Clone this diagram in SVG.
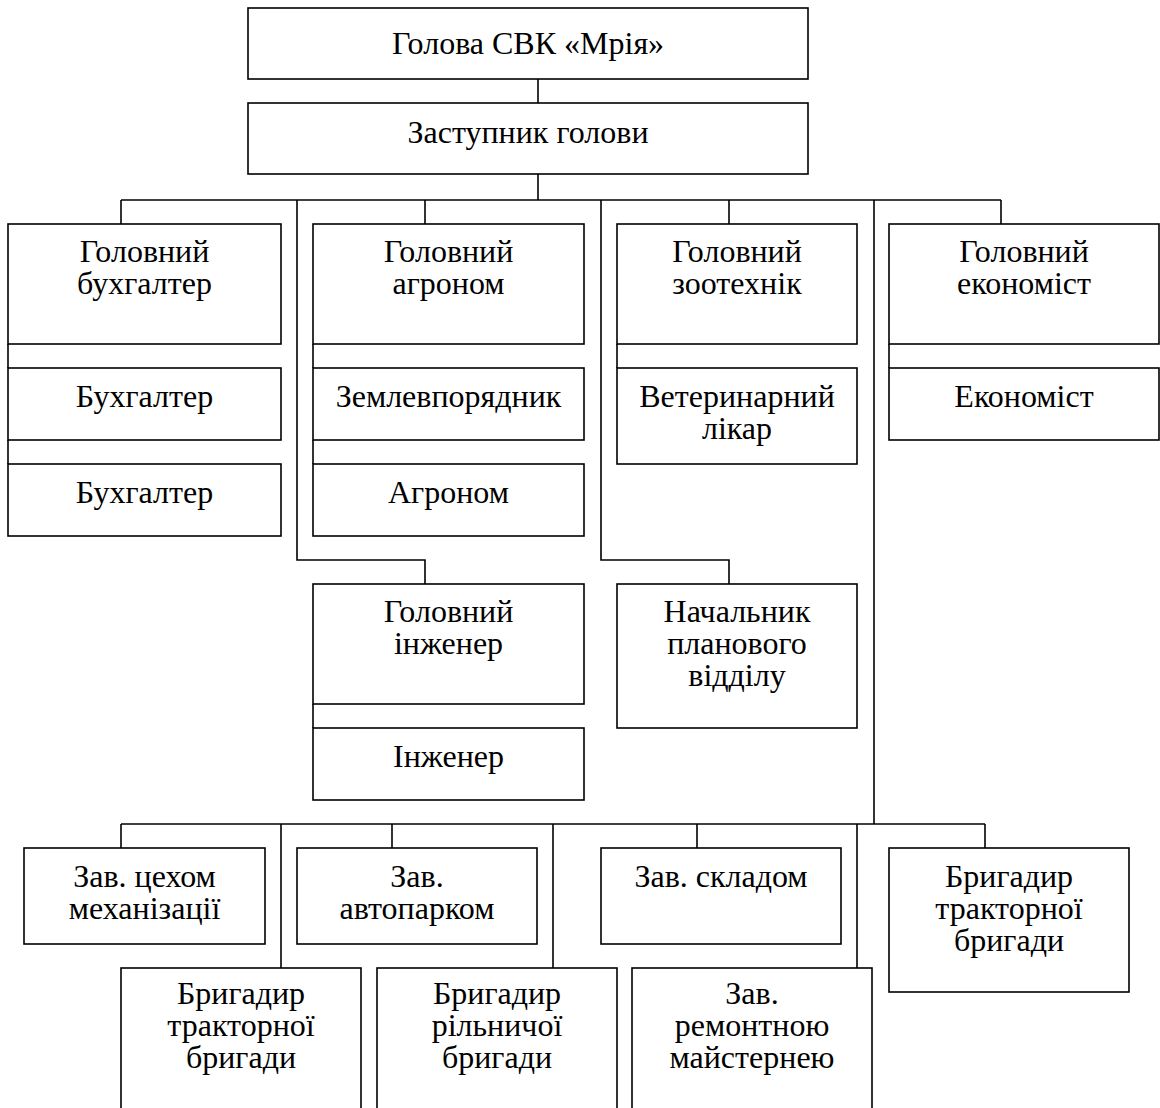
<svg xmlns="http://www.w3.org/2000/svg" width="1160" height="1108" viewBox="0 0 1160 1108">
<style>
rect{fill:#fff;stroke:#000;stroke-width:1.6}
.c line,.c polyline{fill:none;stroke:#000;stroke-width:1.6}
text{font-family:"Liberation Serif","Times New Roman",serif;font-size:32px;fill:#000;text-anchor:middle}
</style>
<rect x="0" y="0" width="1160" height="1108" style="stroke:none"/>
<g class="c" id="connectors">
<line x1="538" y1="79" x2="538" y2="103"/>
<line x1="538" y1="174" x2="538" y2="200"/>
<line x1="121" y1="200" x2="1001" y2="200"/>
<line x1="121" y1="200" x2="121" y2="224"/>
<line x1="425" y1="200" x2="425" y2="224"/>
<line x1="729" y1="200" x2="729" y2="224"/>
<line x1="1001" y1="200" x2="1001" y2="224"/>
<line x1="8" y1="344" x2="8" y2="368"/>
<line x1="8" y1="440" x2="8" y2="464"/>
<line x1="313" y1="344" x2="313" y2="368"/>
<line x1="313" y1="440" x2="313" y2="464"/>
<line x1="617" y1="344" x2="617" y2="368"/>
<line x1="889" y1="344" x2="889" y2="368"/>
<polyline points="297,200 297,560 425,560 425,584"/>
<polyline points="601,200 601,560 729,560 729,584"/>
<line x1="313" y1="704" x2="313" y2="728"/>
<line x1="874" y1="200" x2="874" y2="824"/>
<line x1="121" y1="824" x2="985" y2="824"/>
<line x1="121" y1="824" x2="121" y2="848"/>
<line x1="392" y1="824" x2="392" y2="848"/>
<line x1="697" y1="824" x2="697" y2="848"/>
<line x1="985" y1="824" x2="985" y2="848"/>
<line x1="281" y1="824" x2="281" y2="968"/>
<line x1="553" y1="824" x2="553" y2="968"/>
<line x1="857" y1="824" x2="857" y2="968"/>
</g>
<g id="n-head"><rect x="248" y="8" width="560" height="71"/><text x="528" y="54">Голова СВК «Мрія»</text></g>
<g id="n-deputy"><rect x="248" y="103" width="560" height="71"/><text x="528" y="143">Заступник голови</text></g>
<g id="n-chief-acc"><rect x="8" y="224" width="273" height="120"/><text x="144.5" y="262">Головний<tspan x="144.5" dy="32">бухгалтер</tspan></text></g>
<g id="n-acc1"><rect x="8" y="368" width="273" height="72"/><text x="144.5" y="407">Бухгалтер</text></g>
<g id="n-acc2"><rect x="8" y="464" width="273" height="72"/><text x="144.5" y="503">Бухгалтер</text></g>
<g id="n-chief-agr"><rect x="313" y="224" width="271" height="120"/><text x="448.5" y="262">Головний<tspan x="448.5" dy="32">агроном</tspan></text></g>
<g id="n-land"><rect x="313" y="368" width="271" height="72"/><text x="448.5" y="407">Землевпорядник</text></g>
<g id="n-agr"><rect x="313" y="464" width="271" height="72"/><text x="448.5" y="503">Агроном</text></g>
<g id="n-chief-zoo"><rect x="617" y="224" width="240" height="120"/><text x="737" y="262">Головний<tspan x="737" dy="32">зоотехнік</tspan></text></g>
<g id="n-vet"><rect x="617" y="368" width="240" height="96"/><text x="737" y="407">Ветеринарний<tspan x="737" dy="32">лікар</tspan></text></g>
<g id="n-chief-eco"><rect x="889" y="224" width="270" height="120"/><text x="1024" y="262">Головний<tspan x="1024" dy="32">економіст</tspan></text></g>
<g id="n-eco"><rect x="889" y="368" width="270" height="72"/><text x="1024" y="407">Економіст</text></g>
<g id="n-chief-eng"><rect x="313" y="584" width="271" height="120"/><text x="448.5" y="622">Головний<tspan x="448.5" dy="32">інженер</tspan></text></g>
<g id="n-eng"><rect x="313" y="728" width="271" height="72"/><text x="448.5" y="767">Інженер</text></g>
<g id="n-plan"><rect x="617" y="584" width="240" height="144"/><text x="737" y="622">Начальник<tspan x="737" dy="32">планового</tspan><tspan x="737" dy="32">відділу</tspan></text></g>
<g id="n-mech"><rect x="24" y="848" width="241" height="96"/><text x="144.5" y="887">Зав. цехом<tspan x="144.5" dy="32">механізації</tspan></text></g>
<g id="n-auto"><rect x="297" y="848" width="240" height="96"/><text x="417" y="887">Зав.<tspan x="417" dy="32">автопарком</tspan></text></g>
<g id="n-store"><rect x="601" y="848" width="240" height="96"/><text x="721" y="887">Зав. складом</text></g>
<g id="n-tract2"><rect x="889" y="848" width="240" height="144"/><text x="1009" y="887">Бригадир<tspan x="1009" dy="32">тракторної</tspan><tspan x="1009" dy="32">бригади</tspan></text></g>
<g id="n-tract1"><rect x="121" y="968" width="240" height="150"/><text x="241" y="1004">Бригадир<tspan x="241" dy="32">тракторної</tspan><tspan x="241" dy="32">бригади</tspan></text></g>
<g id="n-field"><rect x="377" y="968" width="240" height="150"/><text x="497" y="1004">Бригадир<tspan x="497" dy="32">рільничої</tspan><tspan x="497" dy="32">бригади</tspan></text></g>
<g id="n-repair"><rect x="632" y="968" width="240" height="150"/><text x="752" y="1004">Зав.<tspan x="752" dy="32">ремонтною</tspan><tspan x="752" dy="32">майстернею</tspan></text></g>
</svg>
